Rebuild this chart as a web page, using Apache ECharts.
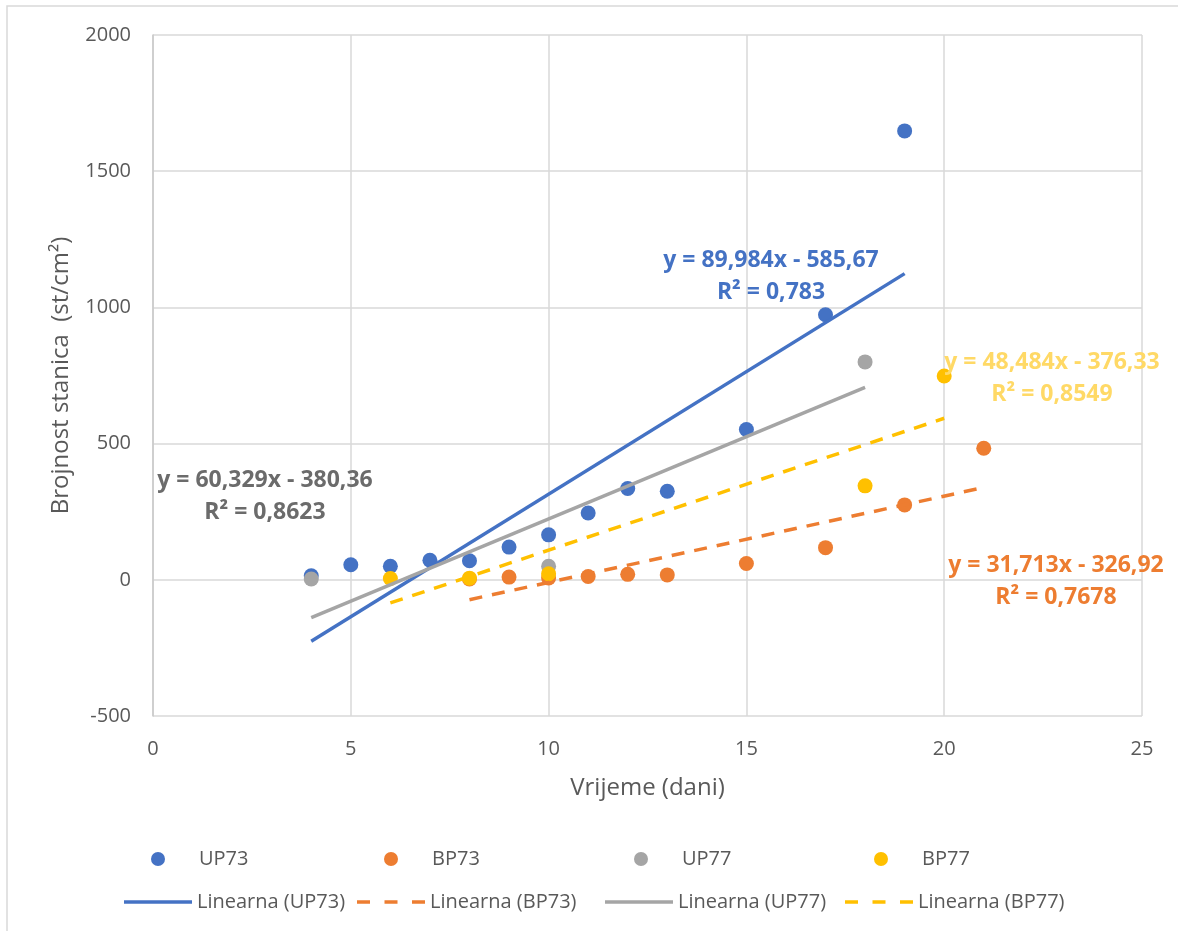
<!DOCTYPE html>
<html>
<head>
<meta charset="utf-8">
<script src="https://cdn.jsdelivr.net/npm/echarts@6/dist/echarts.min.js"></script>
<style>
html,body{margin:0;padding:0;background:#fff;}
#chart{width:1178px;height:931px;}
</style>
</head>
<body>
<div id="chart"></div>
<script>
// ---- data ----
const up73 = [[4, 15], [5, 55], [6, 50], [7, 72], [8, 70], [9, 120], [10, 165], [11, 245], [12, 335], [13, 325], [15, 552], [17, 973], [19, 1648]];
const bp73 = [[8, 3], [9, 10], [10, 7], [11, 12], [12, 20], [13, 18], [15, 60], [17, 118], [19, 275], [21, 483]];
const up77 = [[4, 3], [10, 50], [18, 800]];
const bp77 = [[6, 5], [8, 6], [10, 22], [18, 345], [20, 748]];
const trendUP73 = [[4, -226], [19, 1124]];
const trendBP73 = [[8, -73], [21, 339]];
const trendUP77 = [[4, -139], [18, 706]];
const trendBP77 = [[6, -85], [20, 593]];
const eqUP73 = ['y = 89,984x - 585,67', 'R² = 0,783'];
const eqBP73 = ['y = 31,713x - 326,92', 'R² = 0,7678'];
const eqUP77 = ['y = 60,329x - 380,36', 'R² = 0,8623'];
const eqBP77 = ['y = 48,484x - 376,33', 'R² = 0,8549'];
const xTicks = {min: 0, max: 25, interval: 5};
const yTicks = {min: -500, max: 2000, interval: 500};

const FONT = '"Open Sans", "Noto Sans", sans-serif';
const C = {blue: '#4472C4', orange: '#ED7D31', gray: '#A5A5A5', yellow: '#FFC000'};
const TXT = '#595959';

const chart = echarts.init(document.getElementById('chart'));

function eqGraphic(lines, cx, cy, color) {
  return lines.map((t, i) => ({
    type: 'text', z: 100,
    x: cx, y: cy + i * 32,
    style: {text: t, fill: color, font: 'bold 23px ' + FONT, align: 'center', verticalAlign: 'middle'}
  }));
}

const DASH_ICON = 'path://M0,0h13v3.5h-13z M27.5,0h13v3.5h-13z M55,0h13v3.5h-13z';

function legendDot(left, name) {
  return {
    left: left, top: 847, padding: 0, itemWidth: 68, itemHeight: 14,
    textStyle: {fontFamily: FONT, fontSize: 20, color: TXT, lineHeight: 24, padding: [0, 0, 0, 2]},
    data: [{name: name, icon: 'circle'}]
  };
}
function legendLine(left, name, dashed) {
  return {
    left: left, top: 890, padding: 0, itemWidth: 68, itemHeight: 3.5,
    textStyle: {fontFamily: FONT, fontSize: 20, color: TXT, lineHeight: 24},
    data: [{name: name, icon: dashed ? DASH_ICON : 'rect'}]
  };
}

const scatterBase = {type: 'scatter', symbolSize: 15};
const lineBase = {type: 'line', symbol: 'none', silent: true};

chart.setOption({
  animation: false,
  backgroundColor: '#fff',
  grid: {left: 153, right: 36, top: 35, bottom: 215},
  xAxis: {
    type: 'value', min: xTicks.min, max: xTicks.max, interval: xTicks.interval,
    axisLine: {show: false, onZero: false}, axisTick: {show: false},
    axisLabel: {color: TXT, fontFamily: FONT, fontSize: 20, margin: 23},
    splitLine: {lineStyle: {color: '#d9d9d9', width: 1.5}},
    name: 'Vrijeme (dani)', nameLocation: 'middle', nameGap: 60,
    nameTextStyle: {color: TXT, fontFamily: FONT, fontSize: 24}
  },
  yAxis: {
    type: 'value', min: yTicks.min, max: yTicks.max, interval: yTicks.interval,
    axisLine: {show: true, onZero: false, lineStyle: {color: '#c8c8c8', width: 1.5}}, axisTick: {show: false},
    axisLabel: {color: TXT, fontFamily: FONT, fontSize: 20, margin: 22, formatter: v => String(v)},
    splitLine: {lineStyle: {color: '#d9d9d9', width: 1.5}},
    name: 'Brojnost stanica  (st/cm²)', nameLocation: 'middle', nameGap: 80,
    nameTextStyle: {color: TXT, fontFamily: FONT, fontSize: 24}
  },
  legend: [
    legendDot(151, 'UP73'),
    legendDot(384, 'BP73'),
    legendDot(634, 'UP77'),
    legendDot(874, 'BP77'),
    legendLine(124, 'Linearna (UP73)', false),
    legendLine(357, 'Linearna (BP73)', true),
    legendLine(605, 'Linearna (UP77)', false),
    legendLine(845, 'Linearna (BP77)', true)
  ],
  graphic: [
    {type: 'rect', shape: {x: 7, y: 6, width: 1300, height: 1100}, style: {fill: 'none', stroke: '#d9d9d9', lineWidth: 1.5}, z: -1, silent: true}
  ].concat(
    eqGraphic(eqUP73, 771, 260, C.blue),
    eqGraphic(eqBP77, 1052, 362, '#FFD966'),
    eqGraphic(eqBP73, 1056, 565, C.orange),
    eqGraphic(eqUP77, 265, 480, '#6b6b6b')
  ),
  series: [
    Object.assign({}, scatterBase, {name: 'UP73', data: up73, itemStyle: {color: C.blue, opacity: 1}}),
    Object.assign({}, scatterBase, {name: 'BP73', data: bp73, itemStyle: {color: C.orange, opacity: 1}}),
    Object.assign({}, scatterBase, {name: 'UP77', data: up77, itemStyle: {color: C.gray, opacity: 1}}),
    Object.assign({}, scatterBase, {name: 'BP77', data: bp77, itemStyle: {color: C.yellow, opacity: 1}}),
    Object.assign({}, lineBase, {name: 'Linearna (UP73)', data: trendUP73, itemStyle: {color: C.blue}, lineStyle: {color: C.blue, width: 3.5}}),
    Object.assign({}, lineBase, {name: 'Linearna (BP73)', data: trendBP73, itemStyle: {color: C.orange}, lineStyle: {color: C.orange, width: 3.5, type: [13, 10]}}),
    Object.assign({}, lineBase, {name: 'Linearna (UP77)', data: trendUP77, itemStyle: {color: C.gray}, lineStyle: {color: C.gray, width: 3.5}}),
    Object.assign({}, lineBase, {name: 'Linearna (BP77)', data: trendBP77, itemStyle: {color: C.yellow}, lineStyle: {color: C.yellow, width: 3.5, type: [13, 10]}})
  ]
});
</script>
</body>
</html>
